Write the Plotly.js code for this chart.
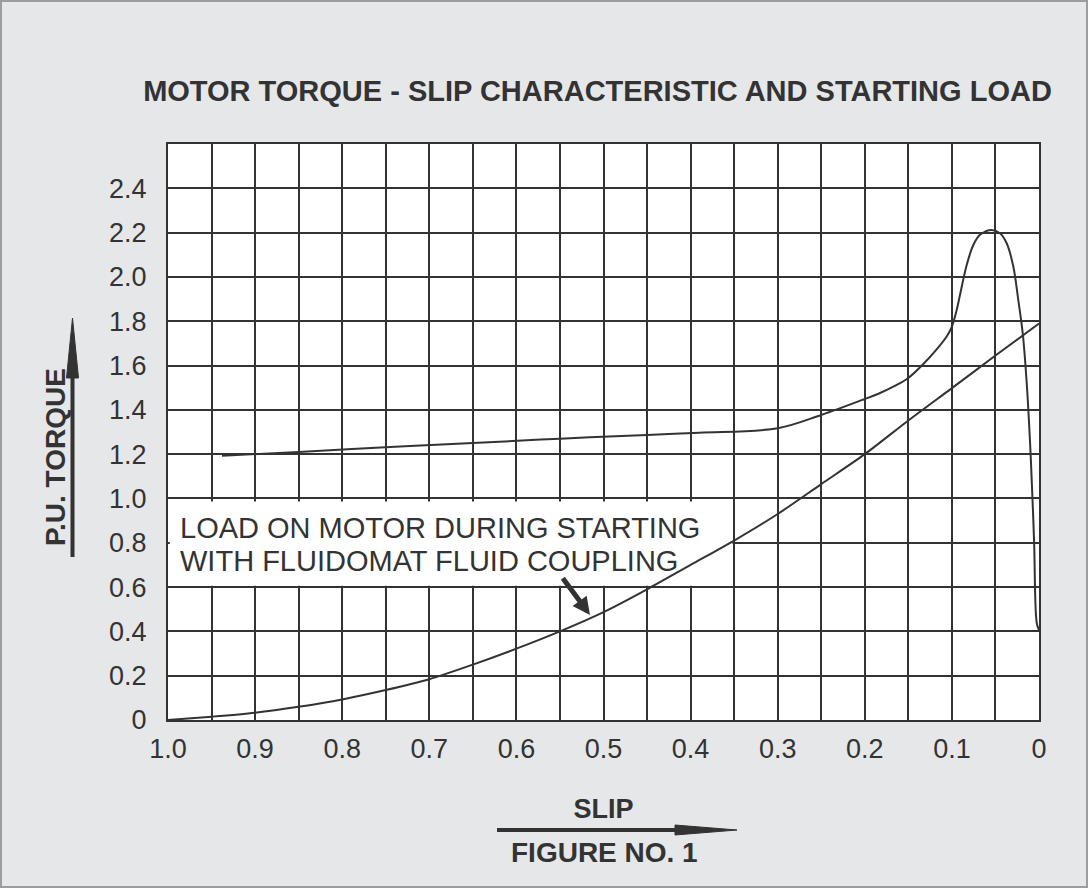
<!DOCTYPE html>
<html>
<head>
<meta charset="utf-8">
<script src="https://cdn.plot.ly/plotly-3.0.1.min.js"></script>
<style>
  html, body { margin: 0; padding: 0; background: #e6e7e9; }
  #wrap { position: relative; width: 1088px; height: 888px; }
  #chart { width: 1088px; height: 888px; }
  #frame { position: absolute; left: 0; top: 0; width: 1088px; height: 888px; box-sizing: border-box;
           border: 2px solid #9d9d9d; pointer-events: none; }
</style>
</head>
<body>
<div id="wrap"><div id="chart"></div><div id="frame"></div></div>
<script>
// ---- Data ----
const slipLoad   = [1.0, 0.95, 0.9, 0.85, 0.8, 0.75, 0.7, 0.65, 0.6, 0.55, 0.5, 0.45, 0.4, 0.35, 0.3, 0.25, 0.2, 0.15, 0.1, 0.05, 0];
const loadTorque = [0, 0.015, 0.033, 0.06, 0.093, 0.135, 0.184, 0.25, 0.322, 0.40, 0.487, 0.59, 0.70, 0.81, 0.93, 1.065, 1.20, 1.352, 1.498, 1.645, 1.79];

const slipMotor   = [0.938, 0.85, 0.75, 0.65, 0.55, 0.45, 0.39, 0.30, 0.25, 0.2, 0.1825, 0.1673, 0.15, 0.1328, 0.1175, 0.106, 0.1, 0.0945, 0.0887, 0.083, 0.0754, 0.0677, 0.0543, 0.0448, 0.0371, 0.0295, 0.0238, 0.0187, 0.0141, 0.0095, 0.0057, 0.0026, 0];
const motorTorque = [1.193, 1.21, 1.231, 1.25, 1.27, 1.287, 1.297, 1.317, 1.377, 1.449, 1.476, 1.505, 1.544, 1.607, 1.673, 1.731, 1.776, 1.851, 1.956, 2.054, 2.144, 2.19, 2.212, 2.197, 2.152, 2.047, 1.896, 1.746, 1.52, 1.189, 0.813, 0.438, 0.406];

const xTickVals = [1.0, 0.9, 0.8, 0.7, 0.6, 0.5, 0.4, 0.3, 0.2, 0.1, 0];
const xTickText = ["1.0", "0.9", "0.8", "0.7", "0.6", "0.5", "0.4", "0.3", "0.2", "0.1", "0"];
const yTickVals = [0, 0.2, 0.4, 0.6, 0.8, 1.0, 1.2, 1.4, 1.6, 1.8, 2.0, 2.2, 2.4];
const yTickText = ["0", "0.2", "0.4", "0.6", "0.8", "1.0", "1.2", "1.4", "1.6", "1.8", "2.0", "2.2", "2.4"];

const titleText  = "MOTOR TORQUE - SLIP CHARACTERISTIC AND STARTING LOAD";
const xTitleText = "SLIP";
const yTitleText = "P.U. TORQUE";
const figText    = "FIGURE NO. 1";
const noteLine1  = "LOAD ON MOTOR DURING STARTING";
const noteLine2  = "WITH FLUIDOMAT FLUID COUPLING";

// ---- Layout helpers ----
const W = 1088, H = 888, ML = 168, MR = 49, MT = 144, MB = 168;
const PW = W - ML - MR, PH = H - MT - MB;
const px = v => (v - ML) / PW;          // page pixel -> paper x
const py = v => (H - MB - v) / PH;      // page pixel -> paper y

const INK = '#333333';
const FONT = 'Liberation Sans, Arial, Helvetica, sans-serif';

const traces = [
  { x: slipMotor, y: motorTorque, type: 'scatter', mode: 'lines', name: 'Motor torque',
    line: { color: INK, width: 2, shape: 'spline', smoothing: 1 }, hoverinfo: 'x+y' },
  { x: slipLoad, y: loadTorque, type: 'scatter', mode: 'lines', name: 'Starting load',
    line: { color: INK, width: 2, shape: 'spline', smoothing: 0.8 }, hoverinfo: 'x+y' }
];

const layout = {
  width: W, height: H,
  margin: { l: ML, r: MR, t: MT, b: MB, pad: 0 },
  paper_bgcolor: '#e6e7e9',
  plot_bgcolor: '#ffffff',
  showlegend: false,
  font: { family: FONT, color: INK },
  title: { text: titleText, font: { family: FONT, size: 29, weight: 700, color: INK },
           xref: 'paper', x: px(597.5), xanchor: 'center', yref: 'container', y: 1 - 91 / H, yanchor: 'middle' },
  xaxis: {
    range: [1, 0], tickmode: 'array', tickvals: xTickVals, ticktext: xTickText,
    showgrid: true, gridcolor: INK, gridwidth: 2,
    minor: { dtick: 0.05, tick0: 0, showgrid: true, gridcolor: INK, gridwidth: 2, ticks: '' },
    showline: true, linecolor: INK, linewidth: 2, mirror: true, zeroline: false,
    ticks: '', ticklabelstandoff: 4,
    tickfont: { family: FONT, size: 27, color: INK },
    title: { text: xTitleText, font: { family: FONT, size: 27, weight: 700, color: INK }, standoff: 36 }
  },
  yaxis: {
    range: [0, 2.6], tickmode: 'array', tickvals: yTickVals, ticktext: yTickText,
    showgrid: true, gridcolor: INK, gridwidth: 2,
    showline: true, linecolor: INK, linewidth: 2, mirror: true, zeroline: false,
    ticks: '', ticklabelstandoff: 14,
    tickfont: { family: FONT, size: 27, color: INK }
  },
  shapes: [
    // white box behind the note (hides grid)
    { type: 'rect', xref: 'x', yref: 'y', x0: 0.998, x1: 0.352, y0: 0.606, y1: 0.986,
      fillcolor: '#ffffff', line: { width: 0 }, layer: 'between' },
    // y-axis arrow
    { type: 'line', xref: 'paper', yref: 'paper', x0: px(72.5), x1: px(72.5), y0: py(557), y1: py(372),
      line: { color: INK, width: 4 } },
    { type: 'path', xref: 'paper', yref: 'paper', fillcolor: INK, line: { color: INK, width: 1 },
      path: `M ${px(66.5)} ${py(378)} L ${px(78.5)} ${py(378)} L ${px(72.5)} ${py(318)} Z` },
    // x-axis arrow
    { type: 'line', xref: 'paper', yref: 'paper', x0: px(497), x1: px(680), y0: py(830), y1: py(830),
      line: { color: INK, width: 4 } },
    { type: 'path', xref: 'paper', yref: 'paper', fillcolor: INK, line: { color: INK, width: 1 },
      path: `M ${px(675)} ${py(825)} L ${px(675)} ${py(835)} L ${px(737)} ${py(830)} Z` }
  ],
  annotations: [
    { text: yTitleText, xref: 'paper', yref: 'paper', x: px(55), y: py(457), textangle: -90,
      showarrow: false, xanchor: 'center', yanchor: 'middle',
      font: { family: FONT, size: 28, weight: 700, color: INK } },
    { text: figText, xref: 'paper', yref: 'paper', x: px(604.5), y: py(852.5),
      showarrow: false, xanchor: 'center', yanchor: 'middle',
      font: { family: FONT, size: 28, weight: 700, color: INK } },
    { text: noteLine1, xref: 'x', yref: 'y', x: 0.9885, y: 0.868, showarrow: false,
      xanchor: 'left', yanchor: 'middle', font: { family: FONT, size: 29, color: INK } },
    { text: noteLine2, xref: 'x', yref: 'y', x: 0.9885, y: 0.719, showarrow: false,
      xanchor: 'left', yanchor: 'middle', font: { family: FONT, size: 29, color: INK } },
    { text: '', xref: 'x', yref: 'y', axref: 'x', ayref: 'y', x: 0.5155, y: 0.474, ax: 0.548, ay: 0.647,
      showarrow: true, arrowhead: 2, arrowsize: 0.7, arrowwidth: 5, arrowcolor: INK }
  ]
};

Plotly.newPlot('chart', traces, layout, { displayModeBar: false, staticPlot: true });
</script>
</body>
</html>
